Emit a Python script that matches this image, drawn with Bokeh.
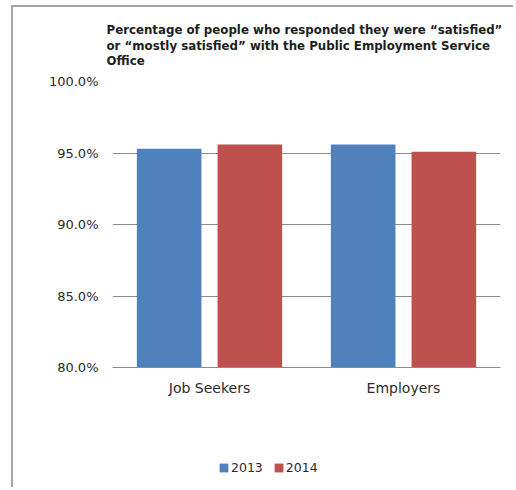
from bokeh.plotting import figure
from bokeh.models import (FactorRange, Range1d, FixedTicker, PrintfTickFormatter,
                          Legend, LegendItem, ColumnDataSource, CategoricalAxis)
from bokeh.transform import dodge
from bokeh.embed import file_html
from bokeh.resources import INLINE

categories = ["Job Seekers", "Employers"]
years = ["2013", "2014"]
values_2013 = [95.3, 95.6]
values_2014 = [95.6, 95.1]
y_ticks = [80, 85, 90, 95, 100]
title_lines = [
    "Percentage of people who responded they were \u201csatisfied\u201d",
    "or \u201cmostly satisfied\u201d with the Public Employment Service",
    "Office",
]

BLUE = "#4F81BD"
RED = "#C0504D"
TEXT = "#2b2b2b"
GRID = "#8c8c8c"
FONT = "DejaVu Sans"
BASE = y_ticks[0]

source = ColumnDataSource(dict(cat=categories, y2013=values_2013, y2014=values_2014))

p = figure(x_range=FactorRange(*categories), y_range=Range1d(72, 100),
           width=502, height=482, output_backend="svg", toolbar_location=None,
           x_axis_location=None,
           min_border_left=99, min_border_right=15, min_border_top=73,
           min_border_bottom=7)
p.styles = {"border-left": "2px solid #a4a4a4", "border-top": "2px solid #a4a4a4",
            "margin-left": "11px", "margin-top": "5px"}

r13 = p.vbar(x=dodge("cat", -0.208, range=p.x_range), top="y2013", bottom=BASE,
             width=0.333, source=source, fill_color=BLUE, line_color=None)
r14 = p.vbar(x=dodge("cat", 0.208, range=p.x_range), top="y2014", bottom=BASE,
             width=0.333, source=source, fill_color=RED, line_color=None)

p.outline_line_color = None
p.background_fill_color = "white"
p.border_fill_color = "white"

p.title.text = "\n".join(title_lines)
p.title.text_font = FONT
p.title.text_font_size = "11.8px"
p.title.text_font_style = "bold"
p.title.text_color = "#1e1e1e"
p.title.align = "left"
p.title.offset = -6
p.title.standoff = 27
p.title.text_line_height = 1.1

p.yaxis.ticker = FixedTicker(ticks=y_ticks)
p.yaxis.formatter = PrintfTickFormatter(format="%.1f%%")
p.yaxis.axis_line_color = None
p.yaxis.major_tick_line_color = None
p.yaxis.minor_tick_line_color = None
p.yaxis.major_tick_out = 0
p.yaxis.major_tick_in = 0
p.yaxis.major_label_standoff = 14
p.yaxis.major_label_text_font = FONT
p.yaxis.major_label_text_font_size = "13px"
p.yaxis.major_label_text_color = TEXT

p.ygrid.ticker = FixedTicker(ticks=y_ticks)
p.ygrid.grid_line_color = GRID
p.xgrid.grid_line_color = None

xaxis = CategoricalAxis(fixed_location=BASE)
xaxis.axis_line_color = GRID
xaxis.major_tick_line_color = None
xaxis.minor_tick_line_color = None
xaxis.major_tick_out = 0
xaxis.major_tick_in = 0
xaxis.major_label_standoff = 12
xaxis.major_label_text_font = FONT
xaxis.major_label_text_font_size = "14px"
xaxis.major_label_text_color = TEXT
p.add_layout(xaxis, "below")

legend = Legend(items=[LegendItem(label=years[0], renderers=[r13]),
                       LegendItem(label=years[1], renderers=[r14])],
                orientation="horizontal", location=(106, 7),
                border_line_color=None, background_fill_alpha=0,
                padding=0, margin=0, spacing=10, label_standoff=2,
                glyph_width=11, glyph_height=11, label_height=12,
                label_text_font=FONT, label_text_font_size="12.5px",
                label_text_color=TEXT)
p.add_layout(legend, "center")

open("out.html", "w").write(file_html(p, INLINE))
